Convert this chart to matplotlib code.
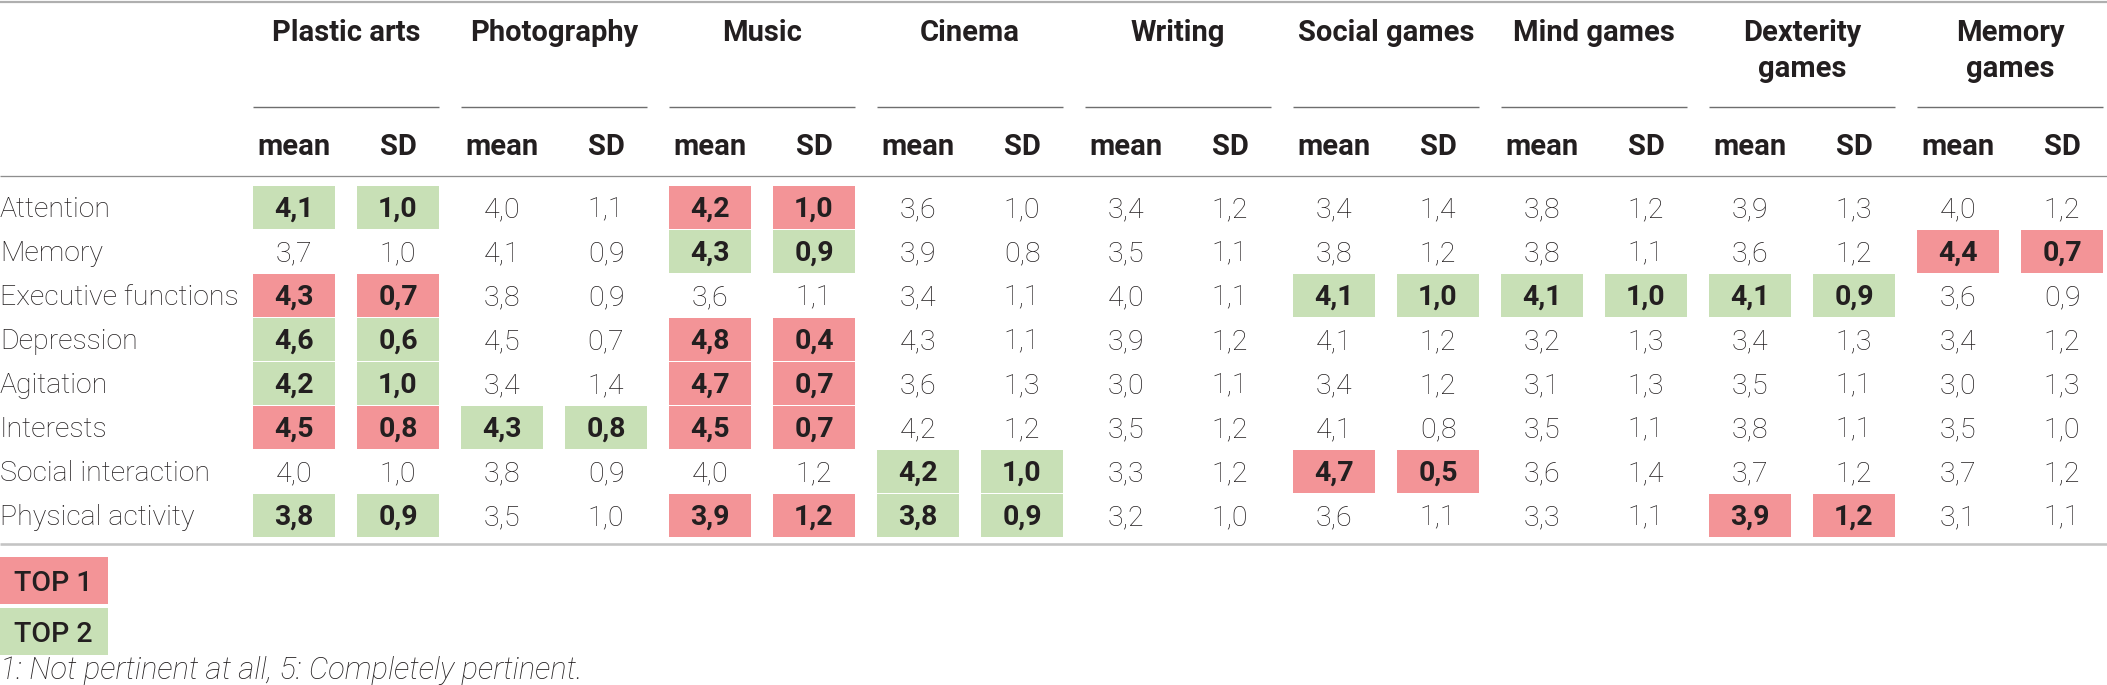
import matplotlib
matplotlib.use("Agg")
import matplotlib.pyplot as plt
from matplotlib.patches import Rectangle

# ---------------- data ----------------
groups = ["Plastic arts", "Photography", "Music", "Cinema", "Writing",
          "Social games", "Mind games", "Dexterity\ngames", "Memory\ngames"]
rows = ["Attention", "Memory", "Executive functions", "Depression",
        "Agitation", "Interests", "Social interaction", "Physical activity"]
sub_headers = ["mean", "SD"]

means = [
    [4.1, 4.0, 4.2, 3.6, 3.4, 3.4, 3.8, 3.9, 4.0],
    [3.7, 4.1, 4.3, 3.9, 3.5, 3.8, 3.8, 3.6, 4.4],
    [4.3, 3.8, 3.6, 3.4, 4.0, 4.1, 4.1, 4.1, 3.6],
    [4.6, 4.5, 4.8, 4.3, 3.9, 4.1, 3.2, 3.4, 3.4],
    [4.2, 3.4, 4.7, 3.6, 3.0, 3.4, 3.1, 3.5, 3.0],
    [4.5, 4.3, 4.5, 4.2, 3.5, 4.1, 3.5, 3.8, 3.5],
    [4.0, 3.8, 4.0, 4.2, 3.3, 4.7, 3.6, 3.7, 3.7],
    [3.8, 3.5, 3.9, 3.8, 3.2, 3.6, 3.3, 3.9, 3.1],
]
sds = [
    [1.0, 1.1, 1.0, 1.0, 1.2, 1.4, 1.2, 1.3, 1.2],
    [1.0, 0.9, 0.9, 0.8, 1.1, 1.2, 1.1, 1.2, 0.7],
    [0.7, 0.9, 1.1, 1.1, 1.1, 1.0, 1.0, 0.9, 0.9],
    [0.6, 0.7, 0.4, 1.1, 1.2, 1.2, 1.3, 1.3, 1.2],
    [1.0, 1.4, 0.7, 1.3, 1.1, 1.2, 1.3, 1.1, 1.3],
    [0.8, 0.8, 0.7, 1.2, 1.2, 0.8, 1.1, 1.1, 1.0],
    [1.0, 0.9, 1.2, 1.0, 1.2, 0.5, 1.4, 1.2, 1.2],
    [0.9, 1.0, 1.2, 0.9, 1.0, 1.1, 1.1, 1.2, 1.1],
]
# 1 = TOP 1, 2 = TOP 2, 0 = none
ranks = [
    [2, 0, 1, 0, 0, 0, 0, 0, 0],
    [0, 0, 2, 0, 0, 0, 0, 0, 1],
    [1, 0, 0, 0, 0, 2, 2, 2, 0],
    [2, 0, 1, 0, 0, 0, 0, 0, 0],
    [2, 0, 1, 0, 0, 0, 0, 0, 0],
    [1, 2, 1, 0, 0, 0, 0, 0, 0],
    [0, 0, 0, 2, 0, 1, 0, 0, 0],
    [2, 0, 1, 2, 0, 0, 0, 1, 0],
]
legend_labels = ["TOP 1", "TOP 2"]
footnote = "1: Not pertinent at all, 5: Completely pertinent."

# ---------------- style ----------------
W, H = 2107, 685
TXT = "#231F20"
PINK = "#F39497"
GREEN = "#C8E0B6"
rank_colors = {1: PINK, 2: GREEN}
FONT = "Roboto"
FS = 20.5
FS_H = 21
FS_LEG = 20.5
FS_FOOT = 22.2

plt.rcParams["font.family"] = [FONT, "DejaVu Sans"]

fig = plt.figure(figsize=(W / 100, H / 100), dpi=100)
ax = fig.add_axes([0, 0, 1, 1])
ax.set_xlim(0, W)
ax.set_ylim(H, 0)
ax.axis("off")

col_left0 = 253
col_pitch = 104
box_w = 82
row_top0 = 185
row_h = 44
px = 0.72  # points per pixel

def fmt(v):
    return f"{v:.1f}".replace(".", ",")

# lines
ax.plot([0, W], [1.5, 1.5], color="#AFAFAF", lw=2.2 * px, solid_capstyle="butt")
ax.plot([0, W], [176, 176], color="#8E8E8E", lw=1.3 * px, solid_capstyle="butt")
ax.plot([0, W], [544, 544], color="#C4C4C4", lw=2.6 * px, solid_capstyle="butt")

# headers
for g, name in enumerate(groups):
    left = col_left0 + 2 * g * col_pitch
    right = left + col_pitch + box_w
    cx = (left + right) / 2
    for k, line in enumerate(name.split("\n")):
        ax.text(cx, 41 + 36 * k, line, ha="center", va="baseline",
                fontsize=FS_H, fontweight="bold", color=TXT)
    ax.plot([left, right], [107, 107], color="#6E6E6E", lw=1.4 * px,
            solid_capstyle="butt")
    for s, sub in enumerate(sub_headers):
        c = left + s * col_pitch + box_w / 2
        ax.text(c, 155, sub, ha="center", va="baseline",
                fontsize=FS_H, fontweight="bold", color=TXT)

# body
for r, rname in enumerate(rows):
    top = row_top0 + r * row_h
    base = top + row_h / 2 + 10
    ax.text(0, base, rname, ha="left", va="baseline", fontsize=FS,
            fontweight="light", color=TXT)
    for g in range(len(groups)):
        rk = ranks[r][g]
        for s, val in enumerate([means[r][g], sds[r][g]]):
            left = col_left0 + (2 * g + s) * col_pitch
            if rk:
                ax.add_patch(Rectangle((left, top + 0.5), box_w, row_h - 1,
                                       facecolor=rank_colors[rk], edgecolor="none"))
            ax.text(left + box_w / 2, base, fmt(val), ha="center", va="baseline",
                    fontsize=FS, fontweight="bold" if rk else "light", color=TXT)

# legend boxes
leg_tops = [557, 608]
for i, lab in enumerate(legend_labels):
    t = leg_tops[i]
    ax.add_patch(Rectangle((0, t), 108, 47, facecolor=rank_colors[i + 1],
                           edgecolor="none"))
    ax.text(53, t + 34, lab, ha="center", va="baseline", fontsize=FS_LEG,
            fontweight="medium", color=TXT)

ax.text(0, 679, footnote, ha="left", va="baseline", fontsize=FS_FOOT,
        fontstyle="italic", fontweight="light", color=TXT)

fig.savefig("out.png", dpi=100)
